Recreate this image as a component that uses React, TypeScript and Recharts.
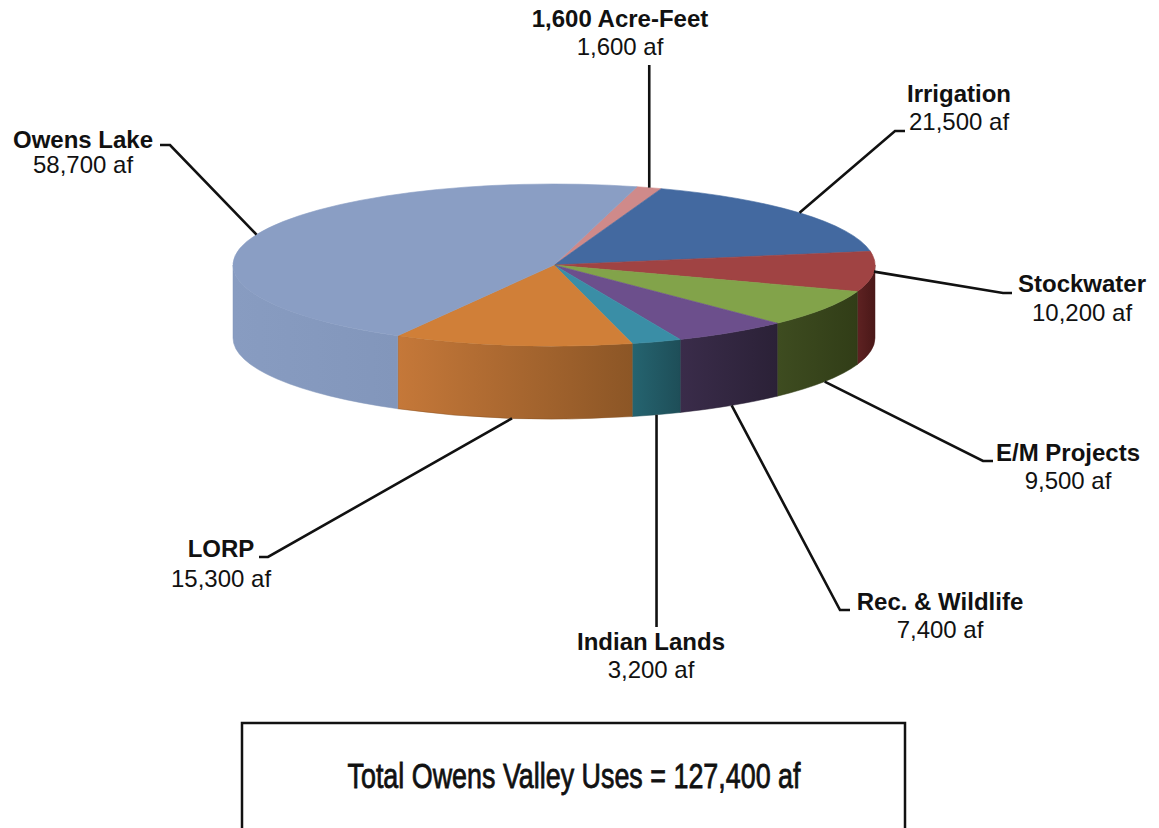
import React from "react";
import { Cell, Pie, PieChart } from "recharts";

// slices in clockwise order, starting at the top of the pie
const NAMES = [
  "1,600 Acre-Feet",
  "Irrigation",
  "Stockwater",
  "E/M Projects",
  "Rec. & Wildlife",
  "Indian Lands",
  "LORP",
  "Owens Lake",
];
const VALUES = [1600, 21500, 10200, 9500, 7400, 3200, 15300, 58700];
const TOP_COLORS = ["#cf8a8a", "#4369a0", "#a04343", "#82a34a", "#6c4f8c", "#3a8ea6", "#d07f38", "#8a9ec4"];
const SIDE_LIGHT = ["#a86a6a", "#34527c", "#5e2222", "#3e4c20", "#3a2c4a", "#256470", "#c57839", "#889cc1"];
const SIDE_DARK = ["#8a5454", "#2a4366", "#4a1818", "#313d17", "#2b2137", "#1e4e58", "#8c5626", "#8296bb"];
const TOTAL_LABEL = "Total Owens Valley Uses = 127,400 af";

const W = 1159;
const H = 828;
const CX = 554;
const CY = 265;
const RX = 321;
const TILT = 81 / 321;
const DEPTH = 73;
const FONT = "'Liberation Sans', Arial, Helvetica, sans-serif";

// label placement, offsets from the pie centre: elbow, stub end, text centre and baselines
const LABEL_LAYOUT: Record<string, { ex: number | null; ey: number; sx: number | null; tx: number; ly: number; vy: number }> = {
  "1,600 Acre-Feet": { ex: null, ey: -200, sx: null, tx: 66, ly: -238, vy: -210 },
  Irrigation: { ex: 341, ey: -134, sx: 351, tx: 405, ly: -163, vy: -135 },
  Stockwater: { ex: 449, ey: 28, sx: 458, tx: 528, ly: 27, vy: 56 },
  "E/M Projects": { ex: 429, ey: 196, sx: 439, tx: 514, ly: 196, vy: 224 },
  "Rec. & Wildlife": { ex: 286, ey: 345, sx: 296, tx: 386, ly: 345, vy: 373 },
  "Indian Lands": { ex: null, ey: 362, sx: null, tx: 97, ly: 385, vy: 413 },
  LORP: { ex: -286, ey: 292, sx: -295, tx: -333, ly: 292, vy: 322 },
  "Owens Lake": { ex: -384, ey: -120, sx: -394, tx: -471, ly: -117, vy: -92 },
};

const data = NAMES.map((name, i) => ({
  name,
  value: VALUES[i],
  top: TOP_COLORS[i],
  sideA: SIDE_LIGHT[i],
  sideB: SIDE_DARK[i],
  idx: i,
}));

const fmt = (v: number) => v.toLocaleString("en-US") + " af";

function pt(cx: number, cy: number, rx: number, ry: number, deg: number): [number, number] {
  const r = (deg * Math.PI) / 180;
  return [cx + rx * Math.cos(r), cy - ry * Math.sin(r)];
}

// part of [lo, hi] that faces the viewer (lower half of the ellipse)
function frontRange(lo: number, hi: number): [number, number] | null {
  for (const k of [-720, -360, 0, 360]) {
    const a = Math.max(lo, -180 + k);
    const b = Math.min(hi, 0 + k);
    if (b > a) return [a, b];
  }
  return null;
}

function Slice3D(props: any) {
  const { cx, cy, outerRadius, startAngle, endAngle } = props;
  const p = props.payload ?? props;
  const rx = outerRadius;
  const ry = rx * TILT;
  const hi = Math.max(startAngle, endAngle);
  const lo = Math.min(startAngle, endAngle);
  const [x1, y1] = pt(cx, cy, rx, ry, hi);
  const [x2, y2] = pt(cx, cy, rx, ry, lo);
  const large = hi - lo > 180 ? 1 : 0;
  const topPath = `M${cx},${cy} L${x1},${y1} A${rx},${ry} 0 ${large} 1 ${x2},${y2} Z`;

  const fr = frontRange(lo, hi);
  let wall = null;
  const gid = `wall-grad-${p.idx}`;
  if (fr) {
    const [a, b] = fr;
    const [wx1, wy1] = pt(cx, cy, rx, ry, b);
    const [wx2, wy2] = pt(cx, cy, rx, ry, a);
    const wl = b - a > 180 ? 1 : 0;
    const d =
      `M${wx1},${wy1} A${rx},${ry} 0 ${wl} 1 ${wx2},${wy2} ` +
      `L${wx2},${wy2 + DEPTH} A${rx},${ry} 0 ${wl} 0 ${wx1},${wy1 + DEPTH} Z`;
    wall = (
      <>
        <defs>
          <linearGradient id={gid} x1="0" y1="0" x2="1" y2="0">
            <stop offset="0%" stopColor={p.sideA} />
            <stop offset="100%" stopColor={p.sideB} />
          </linearGradient>
        </defs>
        <path d={d} fill={`url(#${gid})`} stroke={p.sideB} strokeWidth={0.5} />
      </>
    );
  }

  return (
    <g>
      {wall}
      <path d={topPath} fill={p.top} stroke={p.top} strokeWidth={0.6} />
    </g>
  );
}

function renderLabel(props: any) {
  const { cx, cy, midAngle, outerRadius } = props;
  const name: string = props.name ?? props.payload?.name;
  const value: number = props.value ?? props.payload?.value;
  const lay = LABEL_LAYOUT[name];
  if (!lay) return null;
  const rx = outerRadius;
  const ry = rx * TILT;
  const [sx0, sy0] = pt(cx, cy, rx, ry, midAngle);
  const onWall = Math.sin((midAngle * Math.PI) / 180) < -0.3;
  const sy = onWall ? sy0 + DEPTH : sy0;
  const ex = lay.ex === null ? sx0 : cx + lay.ex;
  const ey = cy + lay.ey;
  const stubX = lay.sx === null ? ex : cx + lay.sx;
  const pts = `${sx0},${sy} ${ex},${ey} ${stubX},${ey}`;
  return (
    <g key={`lbl-${name}`}>
      <polyline points={pts} fill="none" stroke="#111" strokeWidth={2.6} />
      <text x={cx + lay.tx} y={cy + lay.ly} textAnchor="middle" fontFamily={FONT} fontSize={24} fontWeight="bold" fill="#111">
        {name}
      </text>
      <text x={cx + lay.tx} y={cy + lay.vy} textAnchor="middle" fontFamily={FONT} fontSize={24} fill="#111">
        {fmt(value)}
      </text>
    </g>
  );
}

export default function App() {
  return (
    <div style={{ position: "absolute", left: 0, top: 0, width: W, height: H, background: "#fff" }}>
      <PieChart width={W} height={H} margin={{ top: 0, right: 0, bottom: 0, left: 0 }}>
        <Pie
          data={data}
          dataKey="value"
          nameKey="name"
          cx={CX}
          cy={CY}
          innerRadius={0}
          outerRadius={RX}
          startAngle={75}
          endAngle={-285}
          stroke="none"
          isAnimationActive={false}
          shape={Slice3D}
          activeShape={Slice3D}
          inactiveShape={Slice3D}
          label={renderLabel}
          labelLine={false}
        >
          {data.map((d) => (
            <Cell key={d.name} fill={d.top} />
          ))}
        </Pie>
      </PieChart>
      <svg width={W} height={H} style={{ position: "absolute", left: 0, top: 0, pointerEvents: "none" }}>
        <rect x={242} y={723} width={663} height={140} fill="none" stroke="#111" strokeWidth={2.5} />
        <text
          x={574}
          y={788}
          textAnchor="middle"
          fontFamily="'Liberation Sans Narrow', 'Liberation Sans', Arial, sans-serif"
          fontSize={35}
          textLength={453}
          lengthAdjust="spacingAndGlyphs"
          fill="#111"
          stroke="#111"
          strokeWidth={0.8}
        >
          {TOTAL_LABEL}
        </text>
      </svg>
    </div>
  );
}
